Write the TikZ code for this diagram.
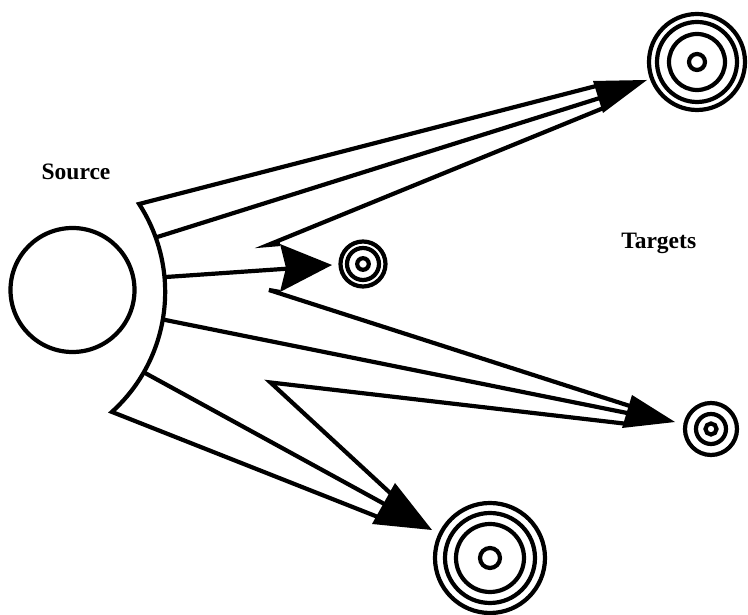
\documentclass[tikz,border=0pt]{standalone}
\usepackage{fontspec}
\setmainfont{Liberation Serif}
\begin{document}
\begin{tikzpicture}[x=1pt,y=1pt,line width=4.2pt,
  lbl/.style={font=\fontsize{23.5}{27}\selectfont\bfseries,anchor=base}]
\useasboundingbox (0,0) rectangle (748,615);

\node[draw,circle,inner sep=0pt,minimum size=124pt] (src) at (72.5,325) {};
\node[lbl] (srclbl) at (76,435.5) {Source};
\node[lbl] (tgtlbl) at (658.7,366.7) {Targets};

\coordinate (t1) at (697,553);
\coordinate (t2) at (363,351);
\coordinate (t3) at (711,186);
\coordinate (t4) at (490,57);
\draw (t1) circle (48) (t1) circle (40) (t1) circle (28) (t1) circle (8);
\draw (t2) circle (22.5) (t2) circle (16) (t2) circle (5.8);
\draw (t3) circle (26) (t3) circle (15) (t3) circle (5.5);
\draw (t4) circle (55) (t4) circle (45) (t4) circle (34) (t4) circle (10);

\coordinate (a1) at (139.1,411);
\coordinate (a2) at (155.7,377.5);
\coordinate (a3) at (164.5,337.9);
\coordinate (a4) at (162.8,295.5);
\coordinate (a5) at (143.8,242.7);
\coordinate (n1) at (268,370);
\coordinate (n2) at (269,325);
\coordinate (n3) at (270.5,232.5);
\coordinate (b1) at (280,371);
\coordinate (b2) at (280,323);
\coordinate (e11) at (600,530);
\coordinate (e12) at (603,518);
\coordinate (e13) at (606,508);
\coordinate (e2) at (290,346.5);
\coordinate (e31) at (636,207);
\coordinate (e32) at (632,201);
\coordinate (e33) at (628,191);
\coordinate (e41) at (394.5,118);
\coordinate (e42) at (388,109);
\coordinate (e43) at (383,96);

\draw (e11) -- (a1) arc[start angle=33,end angle=-47.9,radius=161.6] -- (e43);
\draw (a2) -- (e12);
\draw (a3) -- (e2);
\draw (e13) -- (n1) -- (b1);
\draw (e31) -- (n2) -- (b2);
\draw (a4) -- (e32);
\draw (e33) -- (n3) -- (e41);
\draw (a5) -- (e42);

\fill (593,534) -- (647,535) -- (603,502) -- cycle;
\fill (280,371) -- (332,350) -- (280,323) -- (286,347) -- cycle;
\fill (632,220) -- (675,193) -- (622,187) -- cycle;
\fill (395,132) -- (432,85) -- (372,91) -- cycle;
\end{tikzpicture}
\end{document}
